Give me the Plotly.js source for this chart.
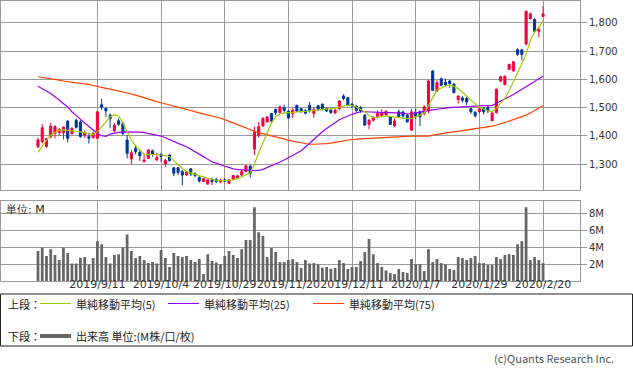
<!DOCTYPE html>
<html>
<head>
<meta charset="utf-8">
<script src="https://cdn.plot.ly/plotly-3.0.1.min.js"></script>
<style>
html,body{margin:0;padding:0;background:#fff;}
#chart{width:633px;height:371px;}
</style>
</head>
<body>
<div id="chart"></div>
<script>
// ---- data ----
var dates = [
"2019/8/22","2019/8/23","2019/8/26","2019/8/27","2019/8/28","2019/8/29","2019/8/30",
"2019/9/2","2019/9/3","2019/9/4","2019/9/5","2019/9/6","2019/9/9","2019/9/10","2019/9/11","2019/9/12","2019/9/13","2019/9/17","2019/9/18","2019/9/19","2019/9/20","2019/9/24","2019/9/25","2019/9/26","2019/9/27","2019/9/30",
"2019/10/1","2019/10/2","2019/10/3","2019/10/4","2019/10/7","2019/10/8","2019/10/9","2019/10/10","2019/10/11","2019/10/15","2019/10/16","2019/10/17","2019/10/18","2019/10/21","2019/10/23","2019/10/24","2019/10/25","2019/10/28","2019/10/29","2019/10/30","2019/10/31",
"2019/11/1","2019/11/5","2019/11/6","2019/11/7","2019/11/8","2019/11/11","2019/11/12","2019/11/13","2019/11/14","2019/11/15","2019/11/18","2019/11/19","2019/11/20","2019/11/21","2019/11/22","2019/11/25","2019/11/26","2019/11/27","2019/11/28","2019/11/29",
"2019/12/2","2019/12/3","2019/12/4","2019/12/5","2019/12/6","2019/12/9","2019/12/10","2019/12/11","2019/12/12","2019/12/13","2019/12/16","2019/12/17","2019/12/18","2019/12/19","2019/12/20","2019/12/23","2019/12/24","2019/12/25","2019/12/26","2019/12/27","2019/12/30",
"2020/1/6","2020/1/7","2020/1/8","2020/1/9","2020/1/10","2020/1/14","2020/1/15","2020/1/16","2020/1/17","2020/1/20","2020/1/21","2020/1/22","2020/1/23","2020/1/24","2020/1/27","2020/1/28","2020/1/29","2020/1/30","2020/1/31",
"2020/2/3","2020/2/4","2020/2/5","2020/2/6","2020/2/7","2020/2/10","2020/2/12","2020/2/13","2020/2/14","2020/2/17","2020/2/18","2020/2/19","2020/2/20"
];
var tickDates = ["2019/9/11","2019/10/4","2019/10/29","2019/11/20","2019/12/11","2020/1/7","2020/1/29","2020/2/20"];

var openP = [1361,1379,1362,1397,1408,1411,1411,1452,1408,1455,1449,1403,1397,1393,1391,1510,1497,1473,1417,1453,
1444,1385,1318,1355,1341,1308,1320,1347,1315,1334,1300,1332,1287,1287,1273,1262,1283,1266,1253,1238,
1229,1243,1245,1236,1244,1232,1247,1252,1261,1273,1293,1353,1400,1435,1449,1479,1494,1482,1499,1487,
1479,1508,1496,1490,1508,1479,1506,1512,1497,1490,1481,1496,1541,1535,1512,1505,1500,1473,1440,1455,
1467,1471,1473,1467,1435,1485,1484,1473,1420,1482,1485,1479,1490,1629,1558,1602,1590,1594,1583,1528,
1534,1532,1496,1483,1485,1497,1500,1453,1482,1594,1582,1635,1630,1705,1704,1725,1814,1812,1770,1822];
var highP = [1393,1441,1393,1446,1438,1428,1431,1455,1430,1461,1455,1418,1411,1415,1487,1531,1500,1479,1445,1461,
1450,1402,1350,1366,1350,1335,1352,1351,1339,1340,1318,1334,1287,1288,1279,1275,1285,1270,1256,1250,
1246,1252,1250,1247,1249,1247,1262,1262,1279,1296,1295,1432,1449,1466,1470,1480,1496,1508,1510,1490,
1497,1510,1499,1494,1520,1502,1510,1514,1500,1497,1495,1526,1547,1538,1516,1508,1505,1476,1460,1470,
1490,1494,1490,1470,1462,1493,1490,1478,1496,1496,1490,1508,1598,1632,1598,1606,1602,1598,1586,1543,
1540,1538,1500,1488,1500,1502,1505,1482,1567,1612,1614,1655,1665,1710,1708,1843,1836,1816,1787,1859];
var lowP = [1356,1373,1358,1391,1391,1400,1387,1376,1404,1426,1393,1393,1373,1390,1390,1491,1467,1428,1412,1435,
1402,1320,1299,1335,1311,1306,1318,1326,1310,1308,1290,1309,1257,1262,1224,1258,1257,1253,1234,1236,
1227,1225,1232,1233,1236,1229,1245,1248,1254,1271,1252,1332,1393,1432,1447,1449,1473,1479,1482,1461,
1463,1484,1482,1476,1482,1463,1487,1490,1484,1478,1477,1490,1525,1505,1500,1484,1482,1435,1423,1450,
1461,1466,1470,1438,1432,1465,1460,1447,1420,1460,1434,1472,1479,1559,1555,1575,1575,1570,1550,1514,
1518,1508,1478,1465,1478,1475,1480,1453,1479,1590,1578,1633,1627,1683,1667,1720,1812,1767,1748,1820];
var closeP = [1385,1428,1390,1434,1432,1422,1431,1391,1426,1430,1397,1411,1391,1408,1485,1501,1488,1461,1438,1441,
1408,1338,1340,1344,1329,1314,1350,1336,1323,1327,1313,1312,1267,1270,1261,1272,1265,1259,1240,1248,
1244,1238,1238,1243,1240,1244,1259,1258,1273,1294,1267,1414,1432,1461,1467,1452,1482,1502,1490,1463,
1491,1487,1485,1480,1490,1494,1494,1494,1488,1482,1491,1523,1532,1508,1505,1490,1488,1438,1455,1465,
1479,1482,1487,1440,1452,1467,1470,1449,1485,1468,1467,1502,1594,1561,1588,1579,1580,1585,1553,1541,
1526,1520,1485,1471,1496,1485,1488,1481,1565,1609,1611,1653,1662,1688,1688,1841,1832,1770,1776,1831];

var ma5 = [1341,1365,1385,1402,1412,1420,1421,1420,1418,1416,1414,1411,1406,1404,1414,1432,1450,1467,1475,1470,
1445,1414,1385,1365,1348,1335,1334,1334,1334,1332,1330,1326,1312,1297,1284,1273,1268,1262,1258,1252,
1249,1247,1241,1240,1241,1242,1244,1248,1254,1262,1269,1300,1340,1375,1408,1445,1468,1477,1480,1481,
1483,1485,1485,1486,1488,1490,1492,1493,1495,1496,1497,1502,1505,1508,1507,1502,1493,1485,1472,1465,
1466,1468,1470,1469,1467,1467,1465,1461,1462,1467,1473,1480,1510,1535,1561,1570,1576,1579,1575,1567,
1555,1540,1526,1514,1502,1495,1488,1485,1497,1515,1532,1560,1590,1620,1655,1690,1738,1768,1785,1808];
var ma25 = [1575,1567,1558,1550,1538,1526,1514,1502,1485,1470,1458,1445,1432,1420,1408,1400,1398,1406,1410,1412,
1414,1414,1414,1414,1413,1411,1408,1405,1402,1399,1393,1386,1379,1373,1367,1361,1353,1344,1335,1326,
1317,1308,1303,1297,1292,1288,1283,1281,1279,1278,1277,1277,1277,1281,1287,1293,1300,1307,1314,1322,
1330,1338,1347,1360,1374,1388,1401,1414,1426,1437,1449,1457,1464,1471,1476,1481,1485,1485,1484,1483,
1482,1482,1482,1482,1482,1481,1480,1478,1478,1481,1484,1488,1490,1492,1494,1497,1498,1500,1501,1502,
1503,1504,1506,1507,1507,1507,1507,1507,1515,1522,1530,1538,1546,1555,1563,1571,1582,1592,1602,1611];
var ma75 = [1609,1607,1605,1602,1600,1597,1594,1591,1589,1587,1586,1585,1582,1578,1574,1571,1568,1565,1562,1559,
1555,1551,1548,1544,1539,1535,1530,1526,1521,1517,1513,1509,1505,1501,1497,1493,1488,1484,1479,1476,
1473,1470,1467,1462,1457,1451,1446,1440,1433,1427,1420,1416,1411,1407,1403,1399,1395,1391,1387,1384,
1381,1378,1375,1372,1370,1370,1370,1371,1372,1374,1376,1379,1382,1385,1387,1388,1389,1390,1391,1391,
1392,1393,1394,1395,1396,1397,1398,1398,1399,1399,1399,1399,1399,1402,1405,1407,1409,1412,1414,1416,
1418,1420,1422,1424,1426,1428,1431,1434,1438,1442,1447,1452,1457,1462,1468,1473,1481,1489,1498,1507];

// volume in millions of shares
var volumeM = [3.57,4.0,2.98,3.8,3.1,2.5,4.0,3.33,2.1,2.1,2.78,2.86,1.98,2.74,4.76,4.4,2.86,2.1,3.1,3.2,
4.0,5.56,3.57,2.74,2.98,2.5,2.14,2.26,2.1,3.69,2.74,1.67,3.33,2.98,2.86,2.98,2.5,2.26,2.62,0.83,
3.2,2.38,2.22,2.0,2.98,3.57,3.1,2.74,3.8,4.88,4.88,8.8,5.83,5.36,2.86,3.93,3.45,2.26,2.26,2.5,
2.62,2.26,1.55,2.5,2.1,2.14,2.0,1.6,1.67,1.47,1.55,2.5,2.14,1.43,1.67,1.67,2.38,3.45,5.0,3.2,
2.14,1.67,1.27,0.95,0.83,1.43,1.07,0.95,2.62,2.0,2.0,1.19,3.8,2.26,2.62,2.14,2.0,1.43,1.31,2.86,
2.74,2.5,2.74,2.98,2.14,2.14,1.9,1.9,2.86,2.62,3.1,3.2,3.1,4.4,4.76,8.8,2.5,2.86,2.5,2.14];

var priceTicks = [1300,1400,1500,1600,1700,1800];
var volTicks = [2,4,6,8];
var volTickText = ["2M","4M","6M","8M"];

// ---- chart ----
var W = 633, H = 371;
function PX(x){return x/W;}
function PY(y){return 1-y/H;}

var RED = '#f5003d', BLUE = '#00359c';
var GRID = '#9a9a9a';
var tickFont = {family:'DejaVu Sans', size:10, color:'#333'};

var traces = [
  {type:'candlestick', x:dates, open:openP, high:highP, low:lowP, close:closeP,
   xaxis:'x', yaxis:'y', whiskerwidth:0, hoverinfo:'skip',
   increasing:{line:{color:RED,width:1}, fillcolor:RED},
   decreasing:{line:{color:BLUE,width:1}, fillcolor:BLUE}, showlegend:false},
  {type:'scatter', mode:'lines', x:dates, y:ma75, xaxis:'x', yaxis:'y', line:{color:'#ff4200',width:1.2}, showlegend:false, hoverinfo:'skip'},
  {type:'scatter', mode:'lines', x:dates, y:ma25, xaxis:'x', yaxis:'y', line:{color:'#9b00f0',width:1.2}, showlegend:false, hoverinfo:'skip'},
  {type:'scatter', mode:'lines', x:dates, y:ma5, xaxis:'x', yaxis:'y', line:{color:'#9ccc00',width:1.2}, showlegend:false, hoverinfo:'skip'},
  {type:'bar', x:dates, y:volumeM, xaxis:'x2', yaxis:'y2', marker:{color:'#666666', line:{width:0}}, showlegend:false, hoverinfo:'skip'}
];

var xr = [-8.83, 127.7];
var commonX = {type:'category', range:xr, tickvals:tickDates, showgrid:true, gridcolor:GRID, gridwidth:1,
  showline:true, mirror:true, linecolor:GRID, linewidth:1, zeroline:false, ticks:'', automargin:false,
  rangeslider:{visible:false}, fixedrange:true};

var layout = {
  width:W, height:H, margin:{l:0,r:0,t:0,b:0}, paper_bgcolor:'#fff', plot_bgcolor:'#fff',
  bargap:0.35, showlegend:false,
  xaxis: Object.assign({}, commonX, {domain:[0.0008, PX(580)], anchor:'y', showticklabels:false}),
  xaxis2: Object.assign({}, commonX, {domain:[0.0008, PX(580)], anchor:'y2', showticklabels:true,
     tickfont:{family:'DejaVu Sans', size:11, color:'#333'}, tickangle:0, ticklabelstandoff:-7}),
  yaxis: {domain:[PY(190), PY(0.5)], anchor:'x', side:'right', range:[1208,1879], tickvals:priceTicks,
     tickformat:',d', ticks:'outside', ticklen:6, tickcolor:GRID, showgrid:true, gridcolor:GRID,
     showline:true, mirror:true, linecolor:GRID, zeroline:false, tickfont:tickFont, automargin:false, fixedrange:true},
  yaxis2: {domain:[PY(281), PY(201)], anchor:'x2', side:'right', range:[0,9.55], tickvals:volTicks, ticktext:volTickText,
     ticks:'outside', ticklen:6, tickcolor:GRID, showgrid:true, gridcolor:GRID,
     showline:true, mirror:true, linecolor:GRID, zeroline:false, tickfont:tickFont, automargin:false, fixedrange:true},
  shapes: [
    {type:'rect', xref:'paper', yref:'paper', x0:PX(0.5), x1:PX(632.5), y0:PY(294), y1:PY(346), line:{color:'#222',width:1}},
    {type:'line', xref:'paper', yref:'paper', x0:PX(40), x1:PX(71), y0:PY(303.5), y1:PY(303.5), line:{color:'#9ccc00',width:1}},
    {type:'line', xref:'paper', yref:'paper', x0:PX(168), x1:PX(199), y0:PY(303.5), y1:PY(303.5), line:{color:'#9b00f0',width:1}},
    {type:'line', xref:'paper', yref:'paper', x0:PX(313), x1:PX(344), y0:PY(303.5), y1:PY(303.5), line:{color:'#ff4200',width:1}},
    {type:'line', xref:'paper', yref:'paper', x0:PX(40), x1:PX(71), y0:PY(336), y1:PY(336), line:{color:'#666',width:4}}
  ],
  annotations: []
};

var jf = {family:'Noto Sans CJK JP', size:11, color:'#222'};
function ann(text, x, y, anchor, font){
  layout.annotations.push({text:text, xref:'paper', yref:'paper', x:PX(x), y:PY(y), xanchor:anchor||'left', yanchor:'middle', showarrow:false, font:font||jf});
}
ann('単位: M', 4, 209, 'left', {family:'DejaVu Sans', size:11, color:'#222'});
ann('上段：', 6, 304);
ann('単純移動平均(5)', 74, 304);
ann('単純移動平均(25)', 202, 304);
ann('単純移動平均(75)', 347, 304);
ann('下段：', 6, 336);
ann('出来高 単位:(M株/口/枚)', 74, 336);
ann('(c)Quants Research Inc.', 616, 358, 'right', {family:'Noto Sans CJK JP', size:11, color:'#555'});

Plotly.newPlot('chart', traces, layout, {staticPlot:true, displayModeBar:false});
</script>
</body>
</html>
